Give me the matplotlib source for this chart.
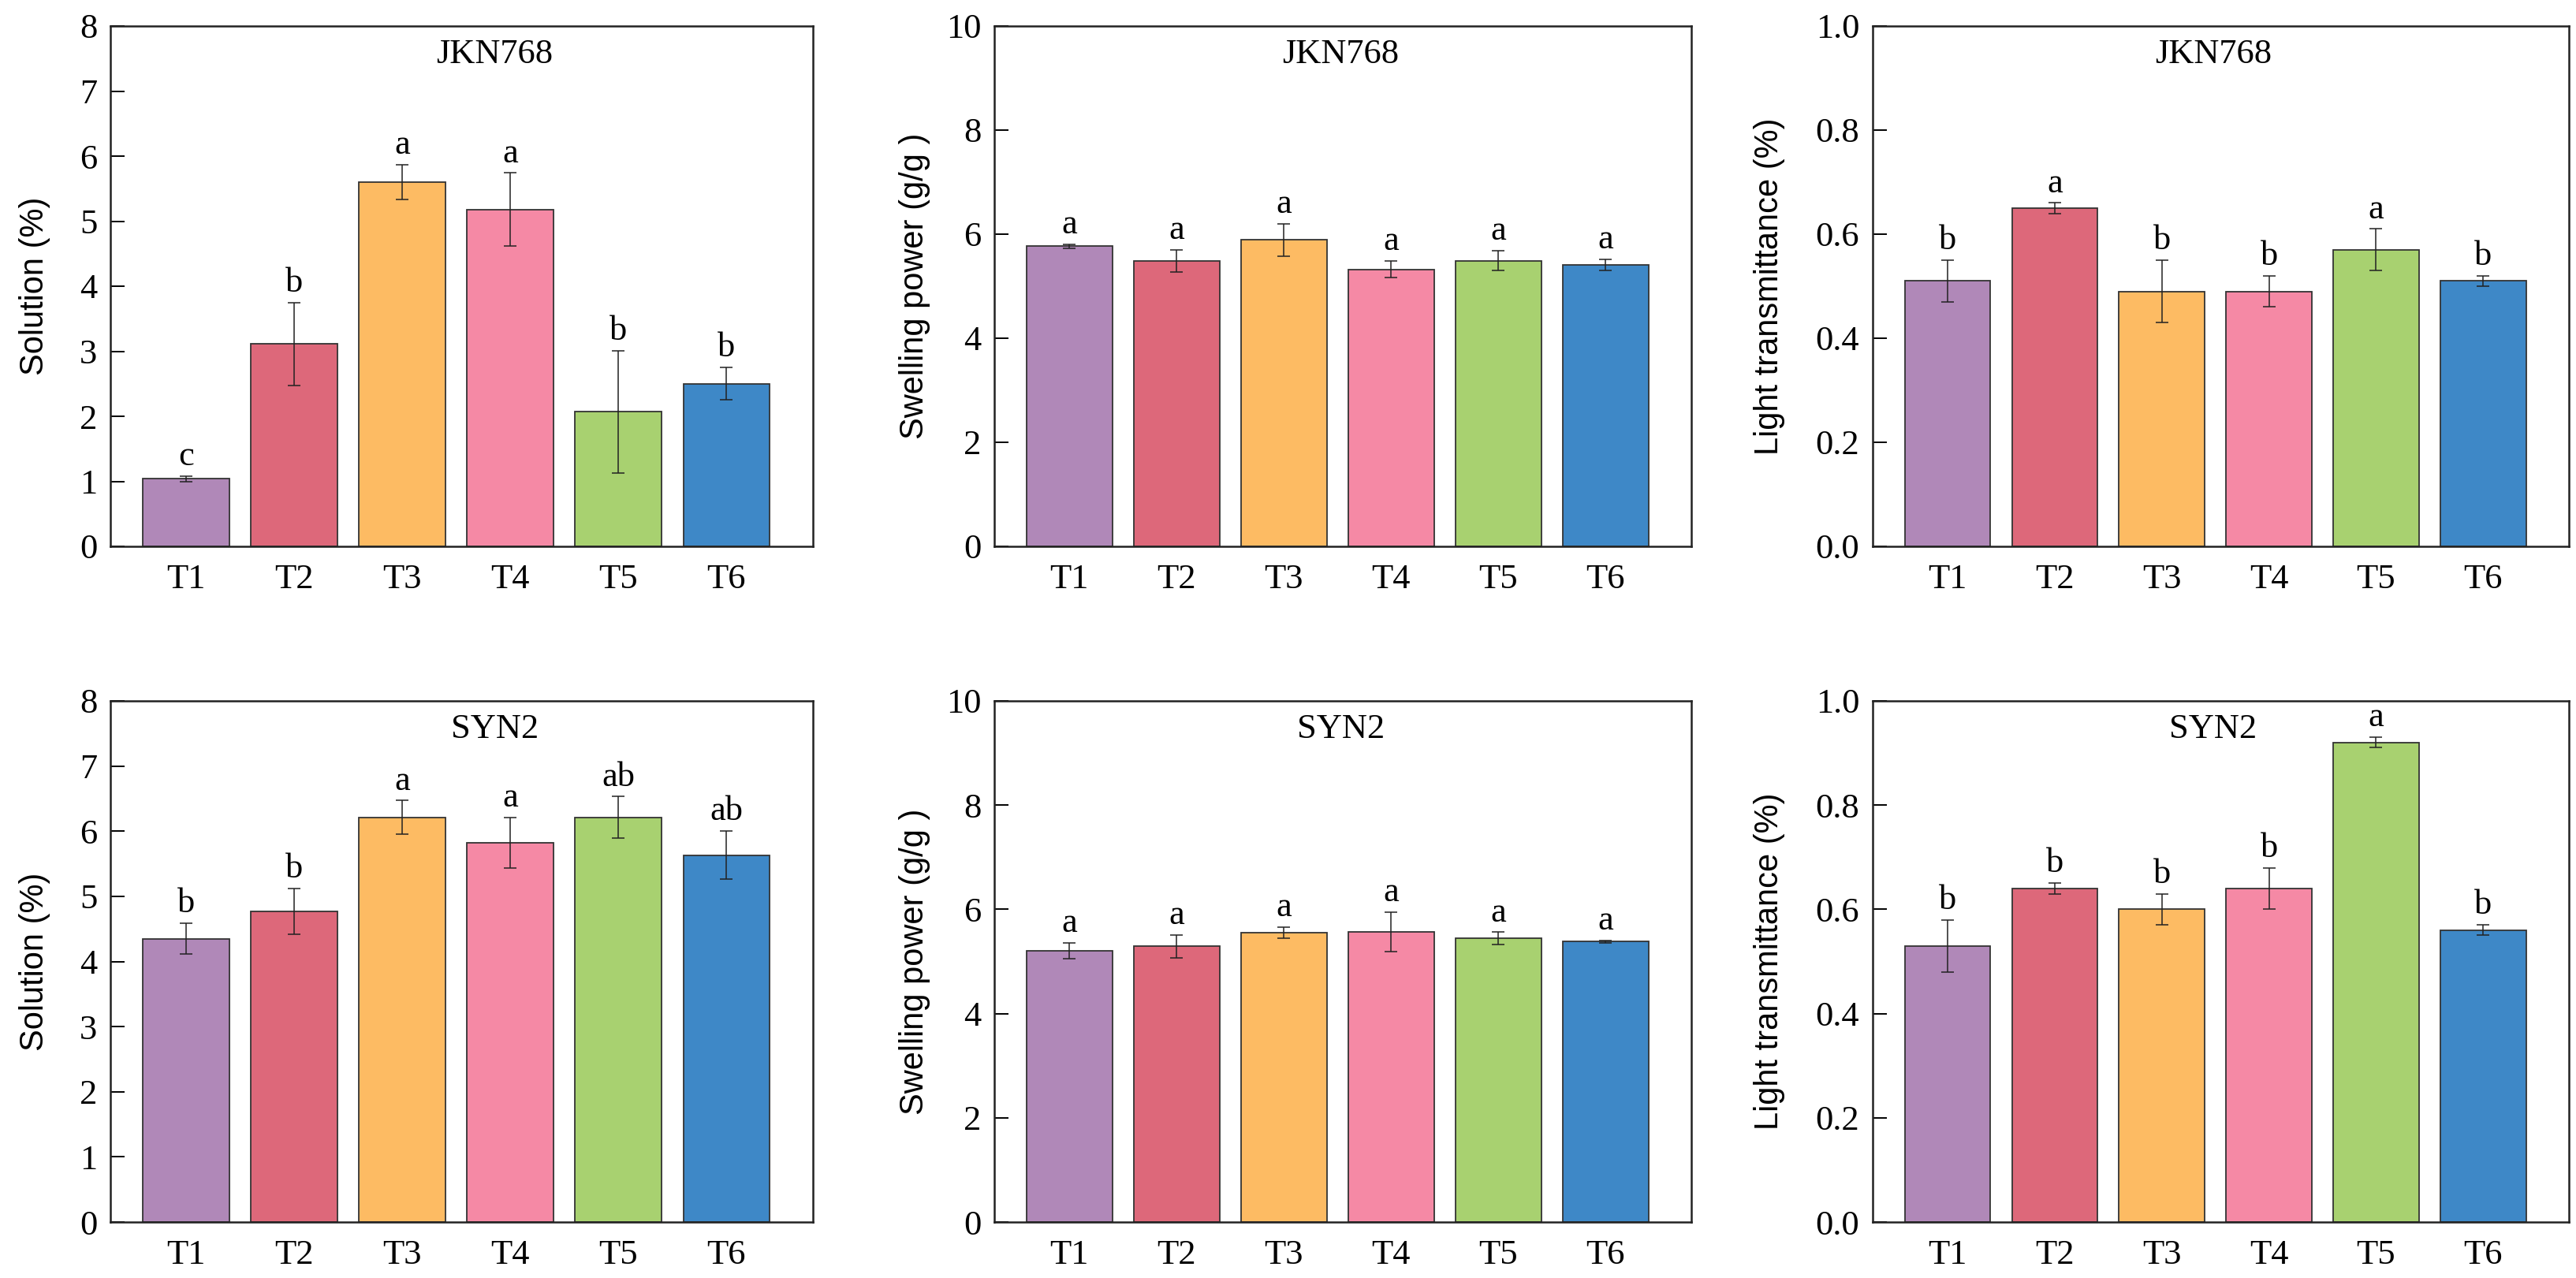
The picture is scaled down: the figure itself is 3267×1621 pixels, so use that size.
import matplotlib
matplotlib.use('Agg')
import matplotlib.pyplot as plt

# treatments and bar colours
treatments = ['T1', 'T2', 'T3', 'T4', 'T5', 'T6']
colors = ['#B088B8', '#DD687A', '#FDBB63', '#F589A5', '#A8D170', '#3E88C7']

# JKN768
jkn_solution = [1.04, 3.11, 5.60, 5.18, 2.07, 2.50]
jkn_solution_err = [0.04, 0.64, 0.27, 0.56, 0.94, 0.25]
jkn_solution_sig = ['c', 'b', 'a', 'a', 'b', 'b']

jkn_swelling = [5.77, 5.49, 5.89, 5.32, 5.49, 5.41]
jkn_swelling_err = [0.04, 0.21, 0.31, 0.16, 0.19, 0.10]
jkn_swelling_sig = ['a', 'a', 'a', 'a', 'a', 'a']

jkn_light = [0.51, 0.65, 0.49, 0.49, 0.57, 0.51]
jkn_light_err = [0.04, 0.01, 0.06, 0.03, 0.04, 0.01]
jkn_light_sig = ['b', 'a', 'b', 'b', 'a', 'b']

# SYN2
syn_solution = [4.35, 4.77, 6.21, 5.82, 6.21, 5.63]
syn_solution_err = [0.24, 0.35, 0.26, 0.39, 0.32, 0.37]
syn_solution_sig = ['b', 'b', 'a', 'a', 'ab', 'ab']

syn_swelling = [5.20, 5.29, 5.55, 5.57, 5.44, 5.38]
syn_swelling_err = [0.15, 0.22, 0.11, 0.38, 0.12, 0.02]
syn_swelling_sig = ['a', 'a', 'a', 'a', 'a', 'a']

syn_light = [0.53, 0.64, 0.60, 0.64, 0.92, 0.56]
syn_light_err = [0.05, 0.01, 0.03, 0.04, 0.01, 0.01]
syn_light_sig = ['b', 'b', 'b', 'b', 'a', 'b']

ylabels = ['Solution (%)', 'Swelling power (g/g )', 'Light transmittance (%)']
ylims = [(0, 8), (0, 10), (0, 1.0)]
yticks = [list(range(0, 9)), list(range(0, 11, 2)), [0.0, 0.2, 0.4, 0.6, 0.8, 1.0]]
yfmt = ['{:.0f}', '{:.0f}', '{:.1f}']

W, H = 3267, 1621
fig = plt.figure(figsize=(W / 100, H / 100), dpi=100)

serif = 'Liberation Serif'
sans = 'Liberation Sans'
fs = 32

cols = [(140, 1031), (1261, 2145), (2375, 3258)]
rows = [(33, 693), (889, 1550)]
title_x = [0.547, 0.497, 0.489]
label_x = [-0.085, -0.092, -0.126]

panels = [
    [(jkn_solution, jkn_solution_err, jkn_solution_sig),
     (jkn_swelling, jkn_swelling_err, jkn_swelling_sig),
     (jkn_light, jkn_light_err, jkn_light_sig)],
    [(syn_solution, syn_solution_err, syn_solution_sig),
     (syn_swelling, syn_swelling_err, syn_swelling_sig),
     (syn_light, syn_light_err, syn_light_sig)],
]
names = ['JKN768', 'SYN2']

for r, (top, bottom) in enumerate(rows):
    for c, (left, right) in enumerate(cols):
        vals, errs, sig = panels[r][c]
        ax = fig.add_axes([left / W, 1 - bottom / H, (right - left) / W, (bottom - top) / H])
        x = list(range(len(treatments)))
        ax.bar(x, vals, width=0.8, color=colors, edgecolor='#333333', linewidth=1.3, zorder=2)
        ax.errorbar(x, vals, yerr=errs, fmt='none', ecolor='#222222', elinewidth=1.1,
                    capsize=6, capthick=1.1, zorder=3)
        for xi, v, e, s in zip(x, vals, errs, sig):
            ax.annotate(s, (xi, v + e), xytext=(0, 10), textcoords='offset points',
                        ha='center', va='baseline', fontsize=fs, family=serif)

        ax.set_xlim(-0.70, 5.80)
        ax.set_ylim(*ylims[c])
        ax.set_yticks(yticks[c])
        ax.set_yticklabels([yfmt[c].format(t) for t in yticks[c]], family=serif, fontsize=fs)
        ax.set_xticks(x)
        ax.set_xticklabels(treatments, family=serif, fontsize=fs)
        ax.tick_params(axis='y', direction='in', length=13, width=1.4, pad=12)
        ax.tick_params(axis='x', length=0, pad=16)
        for sp in ax.spines.values():
            sp.set_linewidth(1.8)
            sp.set_color('#222222')

        ax.set_ylabel(ylabels[c], family=sans, fontsize=30)
        ax.yaxis.set_label_coords(label_x[c], 0.5)
        ax.text(title_x[c], 0.945, names[r], transform=ax.transAxes, ha='center', va='center',
                fontsize=fs, family=serif)

fig.savefig('out.png', dpi=100)
